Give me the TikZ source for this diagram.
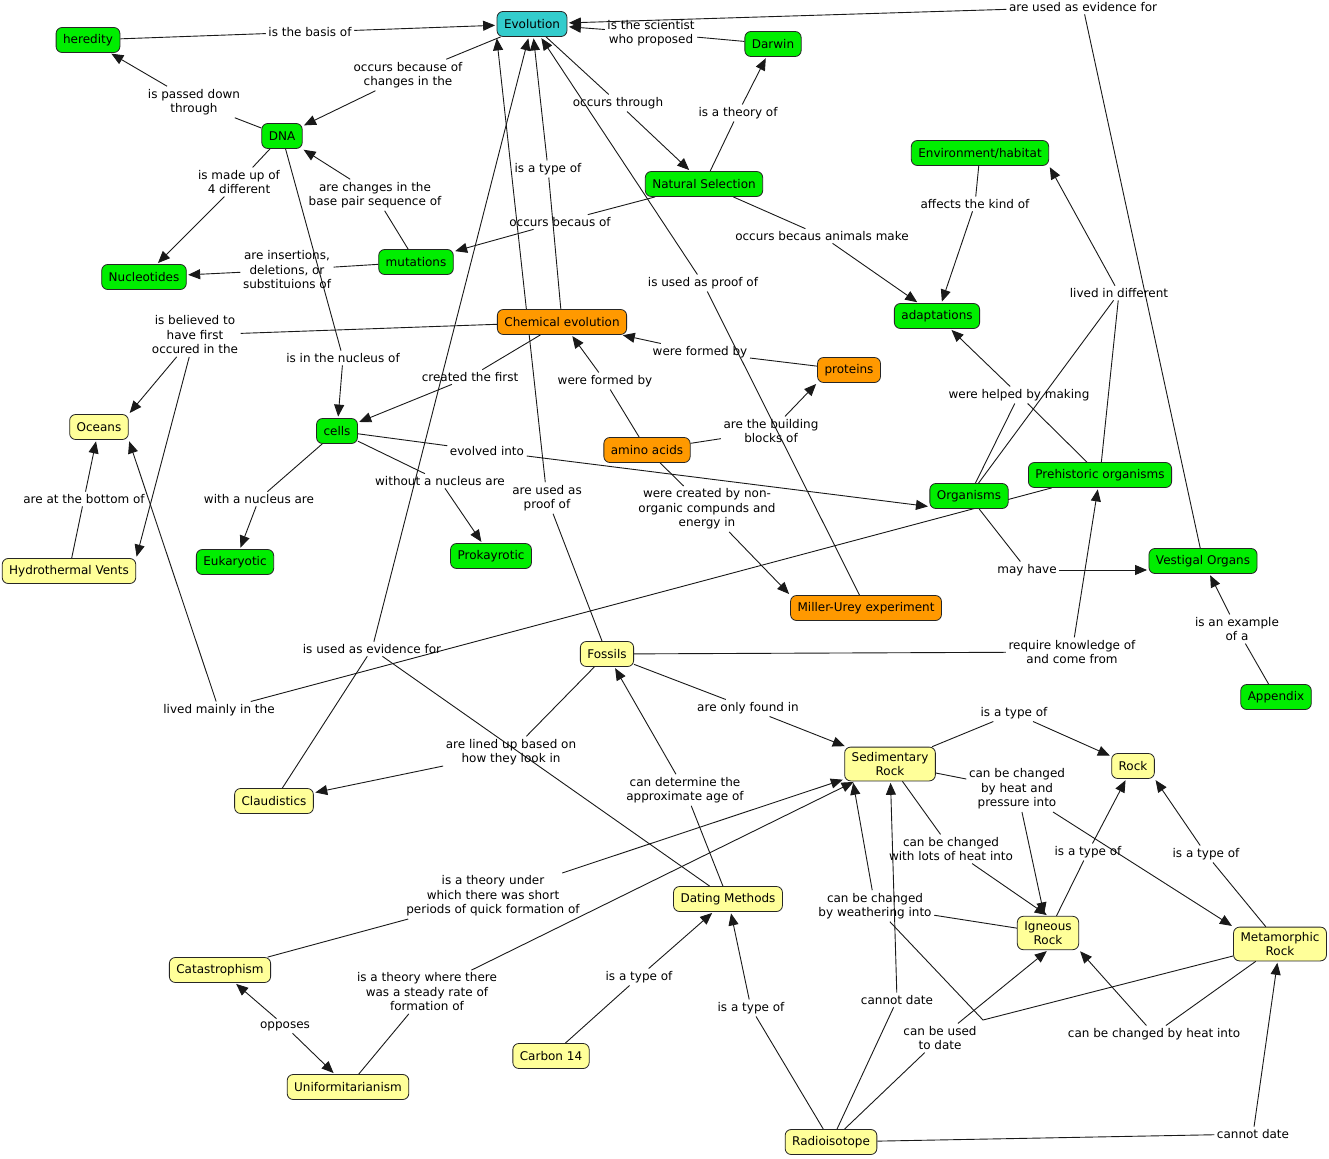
\documentclass[tikz,border=0pt]{standalone}
\usepackage{fontspec}
\setmainfont{DejaVu Sans}
\usetikzlibrary{arrows.meta}
\pgfdeclarelayer{background}
\pgfsetlayers{background,main}
\definecolor{cgreen}{RGB}{0,238,0}
\definecolor{cteal}{RGB}{51,204,204}
\definecolor{corange}{RGB}{255,153,0}
\definecolor{cyellow}{RGB}{255,255,153}
\begin{document}
\begin{tikzpicture}[x=1pt,y=-1pt,
  every node/.style={font=\fontsize{12}{14.5}\selectfont},
  box/.style={draw=black!85, line width=0.8pt, rounded corners=6pt, inner xsep=7pt, inner ysep=5pt, minimum height=25pt, align=center},
  gbox/.style={box, fill=cgreen},
  tbox/.style={box, fill=cteal},
  obox/.style={box, fill=corange},
  ybox/.style={box, fill=cyellow},
  lab/.style={align=center, inner sep=2.5pt},
  con/.style={line width=0.9pt, draw=black!90},
  arr/.style={con, -{Triangle[length=12pt,width=10pt]}, shorten >=1.5pt}]
\useasboundingbox (0,0) rectangle (1329,1158);
% concepts
\node[tbox] (evo) at (532,24) {Evolution};
\node[gbox] (her) at (88,40) {heredity};
\node[gbox] (dar) at (773,44) {Darwin};
\node[gbox] (dna) at (282,136) {DNA};
\node[gbox] (ns) at (704,184) {Natural Selection};
\node[gbox] (env) at (980,153) {Environment/habitat};
\node[gbox] (nuc) at (144,277) {Nucleotides};
\node[gbox] (mut) at (416,262) {mutations};
\node[gbox] (adp) at (937,316) {adaptations};
\node[obox] (chem) at (562,322) {Chemical evolution};
\node[obox] (prot) at (849,370) {proteins};
\node[ybox] (oce) at (99,427) {Oceans};
\node[gbox] (cell) at (337,431) {cells};
\node[obox] (amino) at (647,450) {amino acids};
\node[gbox] (org) at (969,496) {Organisms};
\node[gbox] (pre) at (1100,475) {Prehistoric organisms};
\node[ybox] (hv) at (69,571) {Hydrothermal Vents};
\node[gbox] (euk) at (235,562) {Eukaryotic};
\node[gbox] (pro) at (491,556) {Prokayrotic};
\node[gbox] (ves) at (1203,561) {Vestigal Organs};
\node[obox] (mu) at (866,608) {Miller-Urey experiment};
\node[ybox] (fos) at (607,654) {Fossils};
\node[gbox] (app) at (1276,697) {Appendix};
\node[ybox] (sed) at (890,764) {Sedimentary\\Rock};
\node[ybox] (rock) at (1133,766) {Rock};
\node[ybox] (cla) at (274,801) {Claudistics};
\node[ybox] (dm) at (728,899) {Dating Methods};
\node[ybox] (ign) at (1048,933) {Igneous\\Rock};
\node[ybox] (met) at (1280,944) {Metamorphic\\Rock};
\node[ybox] (cat) at (220,970) {Catastrophism};
\node[ybox] (c14) at (551,1056) {Carbon 14};
\node[ybox] (uni) at (348,1087) {Uniformitarianism};
\node[ybox] (rad) at (831,1142) {Radioisotope};
% linking phrases
\node[lab] (lBasis) at (310,32) {is the basis of};
\node[lab] (lChanges) at (408,75) {occurs because of\\changes in the};
\node[lab] (lPassed) at (194,102) {is passed down\\through};
\node[lab] (lSci) at (651,33) {is the scientist\\who proposed};
\node[lab] (lEvid) at (1083,7) {are used as evidence for};
\node[lab] (lThrough) at (618,103) {occurs through};
\node[lab] (lTheory) at (738,113) {is a theory of};
\node[lab] (lMade) at (239,182) {is made up of\\4 different};
\node[lab] (lBase) at (375,195) {are changes in the\\base pair sequence of};
\node[lab] (lType1) at (548,169) {is a type of};
\node[lab] (lBecaus) at (560,222) {occurs becaus of};
\node[lab] (lAffects) at (975,204) {affects the kind of};
\node[lab] (lAnimals) at (822,236) {occurs becaus animals make};
\node[lab] (lIns) at (287,270) {are insertions,\\deletions, or\\substituions of};
\node[lab] (lProof) at (703,283) {is used as proof of};
\node[lab] (lLived) at (1119,293) {lived in different};
\node[lab] (lBelieved) at (195,335) {is believed to\\have first\\occured in the};
\node[lab] (lNucleus) at (343,358) {is in the nucleus of};
\node[lab] (lFormed1) at (700,352) {were formed by};
\node[lab] (lCreated) at (470,377) {created the first};
\node[lab] (lFormed2) at (605,381) {were formed by};
\node[lab] (lHelped) at (1019,395) {were helped by making};
\node[lab] (lBlocks) at (771,431) {are the building\\blocks of};
\node[lab] (lEvolved) at (487,451) {evolved into};
\node[lab] (lBottom) at (84,499) {are at the bottom of};
\node[lab] (lWith) at (259,499) {with a nucleus are};
\node[lab] (lWithout) at (440,481) {without a nucleus are};
\node[lab] (lProof2) at (547,498) {are used as\\proof of};
\node[lab] (lNonorg) at (707,509) {were created by non-\\organic compunds and\\energy in};
\node[lab] (lMay) at (1027,570) {may have};
\node[lab] (lExample) at (1237,629) {is an example\\of a};
\node[lab] (lEvid2) at (372,649) {is used as evidence for};
\node[lab] (lRequire) at (1072,652) {require knowledge of\\and come from};
\node[lab] (lMainly) at (219,710) {lived mainly in the};
\node[lab] (lFound) at (748,708) {are only found in};
\node[lab] (lType2) at (1014,713) {is a type of};
\node[lab] (lLined) at (511,752) {are lined up based on\\how they look in};
\node[lab] (lAge) at (685,790) {can determine the\\approximate age of};
\node[lab] (lPressure) at (1017,789) {can be changed\\by heat and\\pressure into};
\node[lab] (lType3) at (1088,852) {is a type of};
\node[lab] (lType4) at (1206,854) {is a type of};
\node[lab] (lLots) at (951,849) {can be changed\\with lots of heat into};
\node[lab] (lShort) at (493,896) {is a theory under\\which there was short\\periods of quick formation of};
\node[lab] (lWeather) at (875,906) {can be changed\\by weathering into};
\node[lab] (lType5) at (639,977) {is a type of};
\node[lab] (lSteady) at (427,992) {is a theory where there\\was a steady rate of\\formation of};
\node[lab] (lCannot1) at (897,1000) {cannot date};
\node[lab] (lType6) at (751,1008) {is a type of};
\node[lab] (lOpp) at (285,1026) {opposes};
\node[lab] (lUsed) at (940,1038) {can be used\\to date};
\node[lab] (lHeat) at (1154,1034) {can be changed by heat into};
\node[lab] (lCannot2) at (1253,1134) {cannot date};
\coordinate (bend) at (983,1020);
% connectors
\begin{pgfonlayer}{background}
\fill[white] (0,0) rectangle (1329,1158);
\draw[con] (her) -- (lBasis); \draw[arr] (lBasis) -- (evo);
\draw[con] (evo) -- (lChanges); \draw[arr] (lChanges) -- (dna);
\draw[con] (dna) -- (lPassed); \draw[arr] (lPassed) -- (her);
\draw[con] (dar) -- (lSci); \draw[arr] (lSci) -- (evo);
\draw[con] (ves) -- (lEvid); \draw[arr] (lEvid) -- (evo);
\draw[con] (evo) -- (lThrough); \draw[arr] (lThrough) -- (ns);
\draw[con] (ns) -- (lTheory); \draw[arr] (lTheory) -- (dar);
\draw[con] (dna) -- (lMade); \draw[arr] (lMade) -- (nuc);
\draw[con] (mut) -- (lBase); \draw[arr] (lBase) -- (dna);
\draw[con] (chem) -- (lType1); \draw[arr] (lType1) -- (evo);
\draw[con] (ns) -- (lBecaus); \draw[arr] (lBecaus) -- (mut);
\draw[con] (env) -- (lAffects); \draw[arr] (lAffects) -- (adp);
\draw[con] (ns) -- (lAnimals); \draw[arr] (lAnimals) -- (adp);
\draw[con] (mut) -- (lIns); \draw[arr] (lIns) -- (nuc);
\draw[con] (mu) -- (lProof); \draw[arr] (lProof) -- (evo);
\draw[con] (org) -- (lLived); \draw[con] (pre) -- (lLived); \draw[arr] (lLived) -- (env.south east);
\draw[con] (chem) -- (lBelieved); \draw[arr] (lBelieved) -- (oce.north east); \draw[arr] (lBelieved) -- (hv.north east);
\draw[con] (dna) -- (lNucleus); \draw[arr] (lNucleus) -- (cell);
\draw[con] (prot) -- (lFormed1); \draw[arr] (lFormed1) -- (chem);
\draw[con] (chem) -- (lCreated); \draw[arr] (lCreated) -- (cell);
\draw[con] (amino) -- (lFormed2); \draw[arr] (lFormed2) -- (chem);
\draw[con] (org) -- (lHelped); \draw[con] (pre) -- (lHelped); \draw[arr] (lHelped) -- (adp);
\draw[con] (amino) -- (lBlocks); \draw[arr] (lBlocks) -- (prot.south west);
\draw[con] (cell) -- (lEvolved); \draw[arr] (lEvolved) -- (org.-165);
\draw[con] (hv) -- (lBottom); \draw[arr] (lBottom) -- (oce);
\draw[con] (cell) -- (lWith); \draw[arr] (lWith) -- (euk);
\draw[con] (cell) -- (lWithout); \draw[arr] (lWithout) -- (pro);
\draw[con] (fos) -- (lProof2); \draw[arr] (lProof2) -- (evo.south west);
\draw[con] (amino) -- (lNonorg); \draw[arr] (lNonorg) -- (mu.north west);
\draw[con] (org) -- (lMay); \draw[arr] (lMay) -- (lMay -| ves.west);
\draw[con] (app) -- (lExample); \draw[arr] (lExample) -- (ves);
\draw[con] (cla) -- (lEvid2); \draw[con] (dm) -- (lEvid2); \draw[arr] (lEvid2) -- (evo);
\draw[con] (fos) -- (lRequire); \draw[arr] (lRequire) -- (pre);
\draw[con] (pre) -- (lMainly); \draw[arr] (lMainly) -- (oce.south east);
\draw[con] (fos) -- (lFound); \draw[arr] (lFound) -- (sed);
\draw[con] (sed) -- (lType2); \draw[arr] (lType2) -- (rock);
\draw[con] (fos) -- (lLined); \draw[arr] (lLined) -- (cla);
\draw[con] (dm) -- (lAge); \draw[arr] (lAge) -- (fos);
\draw[con] (sed) -- (lPressure); \draw[arr] (lPressure) -- (ign); \draw[arr] (lPressure) -- (met.north west);
\draw[con] (ign) -- (lType3); \draw[arr] (lType3) -- (rock);
\draw[con] (met) -- (lType4); \draw[arr] (lType4) -- (rock.south east);
\draw[con] (sed) -- (lLots); \draw[arr] (lLots) -- (ign.north);
\draw[con] (ign) -- (lWeather); \draw[con] (met) -- (bend) -- (lWeather); \draw[arr] (lWeather) -- (sed.-155);
\draw[con] (met) -- (lHeat); \draw[arr] (lHeat) -- (ign.south east);
\draw[con] (cat) -- (lShort); \draw[arr] (lShort) -- (sed);
\draw[con] (uni) -- (lSteady); \draw[arr] (lSteady) -- (sed);
\draw[con] (c14) -- (lType5); \draw[arr] (lType5) -- (dm);
\draw[con] (rad) -- (lType6); \draw[arr] (lType6) -- (dm);
\draw[con] (rad) -- (lCannot1); \draw[arr] (lCannot1) -- (sed);
\draw[con] (rad) -- (lUsed); \draw[arr] (lUsed) -- (ign.south);
\draw[con] (rad) -- (lCannot2); \draw[arr] (lCannot2) -- (met);
\draw[arr] (lOpp) -- (cat); \draw[arr] (lOpp) -- (uni);
\end{pgfonlayer}
\end{tikzpicture}
\end{document}
